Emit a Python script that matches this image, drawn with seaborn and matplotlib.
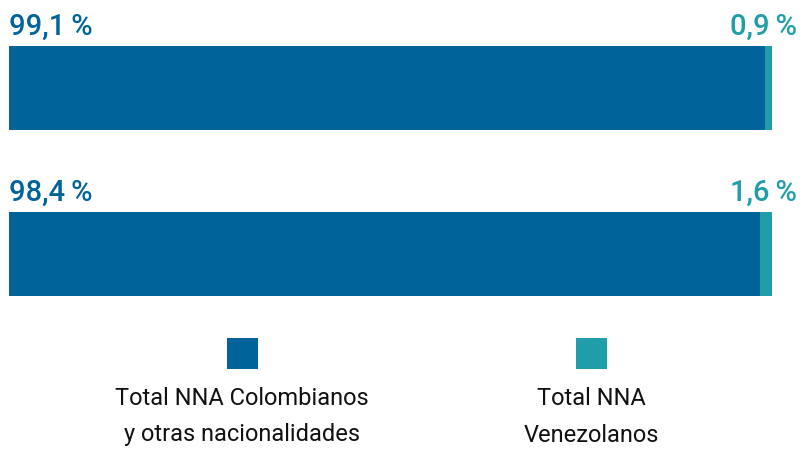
import matplotlib
matplotlib.use("Agg")
import matplotlib.pyplot as plt
from matplotlib.patches import Rectangle
import pandas as pd
import seaborn as sns

# Data
groups = ["Grupo 1", "Grupo 2"]
colombianos = [99.1, 98.4]
venezolanos = [0.9, 1.6]
legend_labels = ["Total NNA Colombianos\ny otras nacionalidades", "Total NNA\nVenezolanos"]

DARK = "#00639A"
TEAL = "#1F9EAA"

sns.set_theme(style="white")
plt.rcParams["font.family"] = ["Roboto", "DejaVu Sans"]

df = pd.DataFrame({"grupo": groups, "col": colombianos, "ven": venezolanos})
df["total"] = df["col"] + df["ven"]

W, H = 800, 458
fig = plt.figure(figsize=(W / 100, H / 100), dpi=100)
ax = fig.add_axes([9 / W, 0, 763 / W, 1])

# stacked: full bar in teal, Colombian share on top in dark blue
sns.barplot(data=df, y="grupo", x="total", color=TEAL, orient="h",
            width=0.506, saturation=1, linewidth=0, ax=ax)
sns.barplot(data=df, y="grupo", x="col", color=DARK, orient="h",
            width=0.506, saturation=1, linewidth=0, ax=ax)

ax.set_xlim(0, 100)
ax.set_ylim(2.229, -0.530)
ax.axis("off")


def pct(v):
    return f"{v:.1f}".replace(".", ",") + "\u2009%"


for i, (c, v) in enumerate(zip(colombianos, venezolanos)):
    y = i - 0.319
    ax.text(0, y, pct(c), color=DARK, fontsize=21, fontweight="medium",
            va="baseline", ha="left", clip_on=False)
    ax.text(103.3, y, pct(v), color=TEAL, fontsize=21, fontweight="medium",
            va="baseline", ha="right", clip_on=False)

# legend: square above two-line label
for cx, color, label in [(242, DARK, legend_labels[0]), (591, TEAL, legend_labels[1])]:
    fig.add_artist(Rectangle(((cx - 15.5) / W, 1 - 369 / H), 31 / W, 31 / H,
                             transform=fig.transFigure, color=color, lw=0))
    fig.text(cx / W, 1 - 387 / H, label, ha="center", va="top",
             fontsize=17, color="#111111", linespacing=1.75)

fig.savefig("out.png", dpi=100)
